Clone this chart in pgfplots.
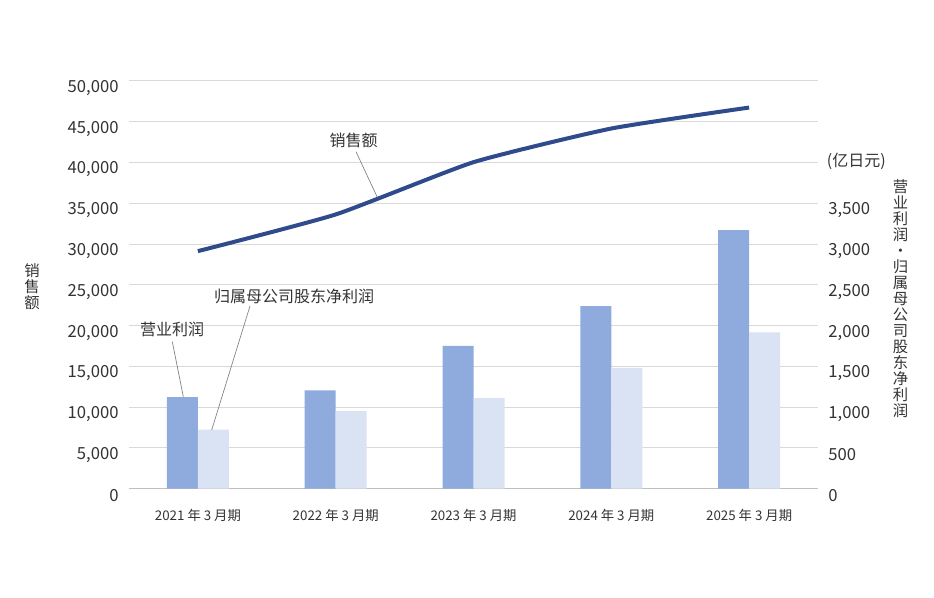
\documentclass[border=0pt]{standalone}
\usepackage{fontspec}
\setmainfont{Noto Sans CJK SC}
\usepackage{pgfplots}
\usepackage{pgfplotstable}
\pgfplotsset{compat=1.18}

\definecolor{salesline}{HTML}{2F4B8C}
\definecolor{opbar}{HTML}{8FAADC}
\definecolor{netbar}{HTML}{DAE3F3}
\definecolor{gridgray}{HTML}{D9D9D9}
\definecolor{axisgray}{HTML}{BFBFBF}
\definecolor{txt}{HTML}{333333}
\definecolor{leader}{HTML}{808080}

% sales (left axis), operating profit and net profit (right axis), 100 million yen
\pgfplotstableread{
x sales op   net
0 29130 1124 723
1 33630 1206 952
2 40040 1752 1111
3 44170 2239 1483
4 46740 3170 1917
}\data

\begin{document}
\begin{tikzpicture}
\path[use as bounding box] (0,0) rectangle (700.5pt,448.5pt);
\pgfplotsset{
  common/.style={
    at={(96.75pt,81.975pt)}, anchor=south west,
    width=516.75pt, height=305.8pt, scale only axis,
    xmin=-0.5, xmax=4.5,
    major tick length=0pt,
    ticklabel style={font=\fontsize{12.5}{14}\selectfont, text=txt},
    /pgf/number format/assume math mode=true,
    /pgf/number format/1000 sep={,},
    scaled y ticks=false,
  }
}
\begin{axis}[common,
  ymin=0, ymax=50000, ytick={0,5000,...,50000},
  axis x line*=bottom, axis y line*=left,
  x axis line style={-, draw=axisgray, line width=1pt},
  y axis line style={draw=none},
  ymajorgrids, grid style={gridgray, line width=0.75pt},
  xtick={0,...,4},
  xticklabels={2021 年 3 月期, 2022 年 3 月期, 2023 年 3 月期, 2024 年 3 月期, 2025 年 3 月期},
  xticklabel style={font=\fontsize{10}{12}\selectfont, yshift=-12pt},
  yticklabel style={xshift=-4.25pt, yshift=-5.25pt},
]
\addplot[salesline, line width=3pt, smooth, tension=0.3] table[x=x, y=sales]{\data};
\end{axis}
\begin{axis}[common,
  ymin=0, ymax=5000, ytick={0,500,...,3500},
  axis x line=none, axis y line*=right,
  y axis line style={draw=none},
  yticklabel style={anchor=west, xshift=4.25pt, yshift=-5.25pt},
  ybar=0pt, bar width=23.25pt,
]
\addplot[fill=opbar, draw=none] table[x=x, y=op]{\data};
\addplot[fill=netbar, draw=none] table[x=x, y=net]{\data};
\end{axis}

\begin{scope}[x=0.75pt, y=-0.75pt, shift={(0,448.5pt)},
  every node/.style={font=\fontsize{12}{14}\selectfont, text=txt, inner sep=0pt}]
\node at (353.7,140) {销售额};
\draw[leader, line width=0.5pt] (356,151.7) -- (377.3,197.3);
\node at (172,329.3) {营业利润};
\draw[leader, line width=0.5pt] (172.3,341.7) -- (183.3,396.7);
\node at (294.2,296.7) {归属母公司股东净利润};
\draw[leader, line width=0.5pt] (250,306) -- (211.7,430);
\node[anchor=west] at (826.7,161.7) {(亿日元)};
\node[align=center, font=\fontsize{11.5}{12}\selectfont] at (32,286.5) {销\\售\\额};
\node[align=center, font=\fontsize{11.5}{12}\selectfont] at (900.5,299) {营\\业\\利\\润\\・\\归\\属\\母\\公\\司\\股\\东\\净\\利\\润};
\end{scope}
\end{tikzpicture}
\end{document}
